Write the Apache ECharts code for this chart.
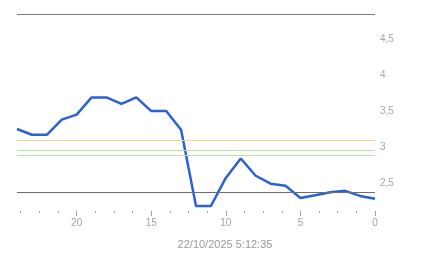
<!DOCTYPE html>
<html>
<head>
<meta charset="utf-8">
<script src="https://cdn.jsdelivr.net/npm/echarts@6/dist/echarts.min.js"></script>
<style>
html,body{margin:0;padding:0;background:#fff;}
#c{width:443px;height:258px;}
</style>
</head>
<body>
<div id="c"></div>
<script>
// hours ago (x)
var hoursAgo = [24,23,22,21,20,19,18,17,16,15,14,13,12,11,10,9,8,7,6,5,4,3,2,1,0];
var values = [3.25,3.17,3.17,3.38,3.45,3.69,3.69,3.60,3.69,3.50,3.50,3.24,2.18,2.18,2.57,2.84,2.60,2.49,2.46,2.29,2.33,2.37,2.39,2.32,2.28];
var xMajorTicks = [0,5,10,15,20];
var xMinorTicks = [1.25,2.5,3.75,6.25,7.5,8.75,11.25,12.5,13.75,16.25,17.5,18.75,21.25,22.5,23.75];
var yTickLabels = [2.5,3,3.5,4,4.5];
var yMin = 2.11, yMax = 4.85;
var refLines = [4.85, 3.09, 2.95, 2.89, 2.37];
var refColors = ['#7f7f7f', '#f2d58c', '#b9e3a6', '#b9e3a6', '#6e6e6e'];
var timestamp = '22/10/2025 5:12:35';

var chart = echarts.init(document.getElementById('c'));
var font = 'Liberation Sans, Arial, sans-serif';
var grid = {left:17, right:68, top:14, bottom:47};

chart.setOption({
  animation:false,
  grid: grid,
  title: {
    text: timestamp, left: 220, top: 234, textAlign:'center',
    textStyle:{fontSize:11, fontWeight:'normal', color:'#9a9a9a', fontFamily:font}
  },
  xAxis: [{
    type:'value', min:0, max:24, inverse:true, position:'bottom',
    axisLine:{show:false}, splitLine:{show:false},
    axisTick:{show:true, length:5, customValues:xMajorTicks, lineStyle:{color:'#a0a0a0'}},
    axisLabel:{customValues:xMajorTicks, color:'#a0a0a0', fontSize:10, fontFamily:font, margin:7}
  },{
    type:'value', min:0, max:24, inverse:true, position:'bottom',
    axisLine:{show:false}, splitLine:{show:false},
    axisTick:{show:true, length:2, customValues:xMinorTicks, lineStyle:{color:'#a0a0a0'}},
    axisLabel:{show:false}
  }],
  yAxis: {
    type:'value', min:yMin, max:yMax, position:'right',
    axisLine:{show:false}, axisTick:{show:false}, splitLine:{show:false},
    axisLabel:{
      customValues:yTickLabels, color:'#a8a8a8', fontSize:10, fontFamily:font, margin:5,
      formatter:function(v){return String(v).replace('.', ',');}
    }
  },
  series: [{
    type:'line',
    xAxisIndex:0,
    data: hoursAgo.map(function(h,i){return [h, values[i]];}),
    showSymbol:false,
    lineStyle:{color:'#2b60d6', width:2.5},
    itemStyle:{color:'#2b60d6'},
    markLine:{
      silent:true, symbol:'none', label:{show:false},
      data: refLines.map(function(v,i){return {yAxis:v, lineStyle:{color:refColors[i], width:1, type:'solid'}};})
    },
    z:3
  }]
});
</script>
</body>
</html>
